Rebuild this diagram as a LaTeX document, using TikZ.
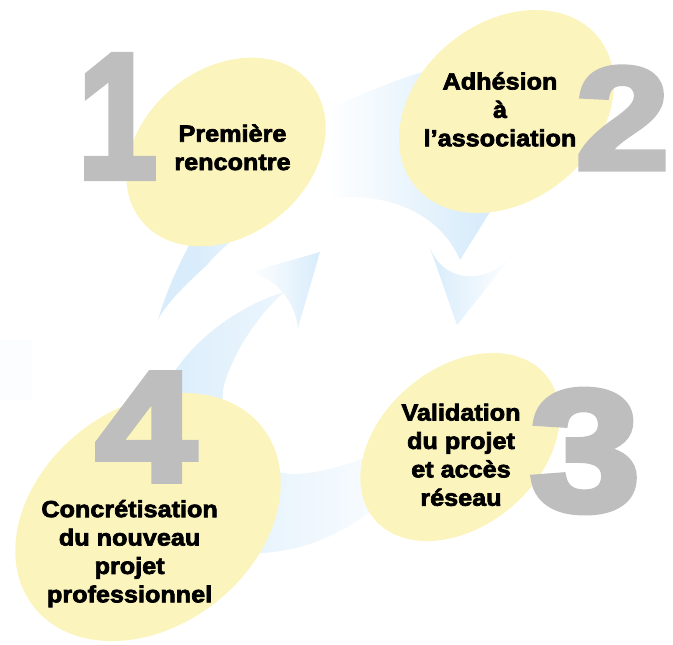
\documentclass[tikz,border=0pt]{standalone}
\usepackage{fontspec}
\usepackage{graphicx}
\usepackage{tikz}
\usetikzlibrary{shapes.geometric}
\usepackage{xcolor}

\newfontfamily\stagefont{Liberation Sans}[BoldFeatures={FakeBold=3,FakeStretch=1.08}]
\newfontfamily\numfont{Liberation Sans}[BoldFeatures={FakeBold=4}]

\definecolor{blobyellow}{RGB}{252,244,189}
\definecolor{numgray}{RGB}{190,190,190}
\definecolor{bandblue}{RGB}{216,236,251}

% blue at both ends, white in the middle
\pgfdeclarehorizontalshading{bandtop}{100bp}{color(0bp)=(bandblue); color(30bp)=(bandblue);
    color(43bp)=(white); color(47bp)=(white); color(67bp)=(bandblue); color(100bp)=(bandblue)}

\begin{document}
\begin{tikzpicture}[
    x=0.75pt, y=-0.75pt,  % one unit = one pixel, y going down
    stageblob/.style={
        ellipse,
        fill=blobyellow,
        inner sep=0pt
    },
    stagenum/.style={
        inner sep=0pt,
        text=numgray
    },
    stagetext/.style={
        inner sep=0pt,
        align=center,
        text=black,
        font=\stagefont\bfseries\fontsize{17.5}{21.3}\selectfont
    }
]
\useasboundingbox (0,0) rectangle (673,644);

% faint patch on the far left
\fill[bandblue!10] (0,340) rectangle (32,400);

% Upper arrow (left tail, over the top, down to the right)
\shade[shading=bandtop]
    (158,320) .. controls (175,260) and (230,150) .. (330,108)
    .. controls (400,78) and (450,55) .. (500,70)
    .. controls (540,90) and (520,170) .. (490,212)
    -- (460,260)
    .. controls (445,225) and (410,200) .. (357,197)
    .. controls (300,196) and (240,225) .. (207,265)
    .. controls (185,285) and (165,305) .. (158,320) -- cycle;
% its head
\shade[left color=bandblue, right color=white]
    (430,248) -- (457,325) -- (515,252)
    .. controls (490,285) and (445,285) .. (430,248) -- cycle;

% Lower arrow (from behind 3, under the bottom, up the left side)
\shade[left color=bandblue, right color=white]
    (284,292) .. controls (240,305) and (180,345) .. (160,400)
    .. controls (140,470) and (190,560) .. (263,553)
    .. controls (310,550) and (350,530) .. (385,500)
    -- (430,470) -- (400,445)
    .. controls (370,455) and (335,472) .. (297,474)
    .. controls (250,475) and (215,430) .. (224,385)
    .. controls (236,345) and (262,312) .. (284,292) -- cycle;
% its head
\shade[left color=white, right color=bandblue]
    (250,272) -- (320,252) -- (298,328)
    .. controls (295,300) and (275,278) .. (250,272) -- cycle;

% Define the four stages
\node[stageblob, rotate=39, minimum width=163.5pt, minimum height=125pt] (stage1) at (226,152) {};
\node[stageblob, rotate=39, minimum width=177pt, minimum height=133.5pt] (stage2) at (506.5,111.5) {};
\node[stageblob, rotate=40, minimum width=168pt, minimum height=118.5pt] (stage3) at (460,447) {};
\node[stageblob, rotate=38, minimum width=218pt, minimum height=163.5pt] (stage4) at (148,517) {};

% Big numbers
\node[stagenum, font=\numfont\bfseries\fontsize{133}{133}\selectfont] (num1) at (117.5,116.5) {\scalebox{0.8}[1]{1}};
\node[stagenum, font=\numfont\bfseries\fontsize{109}{109}\selectfont] (num2) at (622.5,118) {\scalebox{1.15}[1]{2}};
\node[stagenum, font=\numfont\bfseries\fontsize{129}{129}\selectfont] (num3) at (585,451) {\scalebox{1.15}[1]{3}};
\node[stagenum, font=\numfont\bfseries\fontsize{117}{117}\selectfont] (num4) at (146,427) {\scalebox{1.15}[1]{4}};

% Stage texts
\node[stagetext] (txt1) at (232.5,147.4) {Première\\rencontre};
\node[stagetext] (txt2) at (500,109.4) {Adhésion\\à\\l’association};
\node[stagetext] (txt3) at (461,454.8) {Validation\\du projet\\et accès\\réseau};
\node[stagetext] (txt4) at (129.6,553.6) {Concrétisation\\du nouveau\\projet\\professionnel};

\end{tikzpicture}
\end{document}
